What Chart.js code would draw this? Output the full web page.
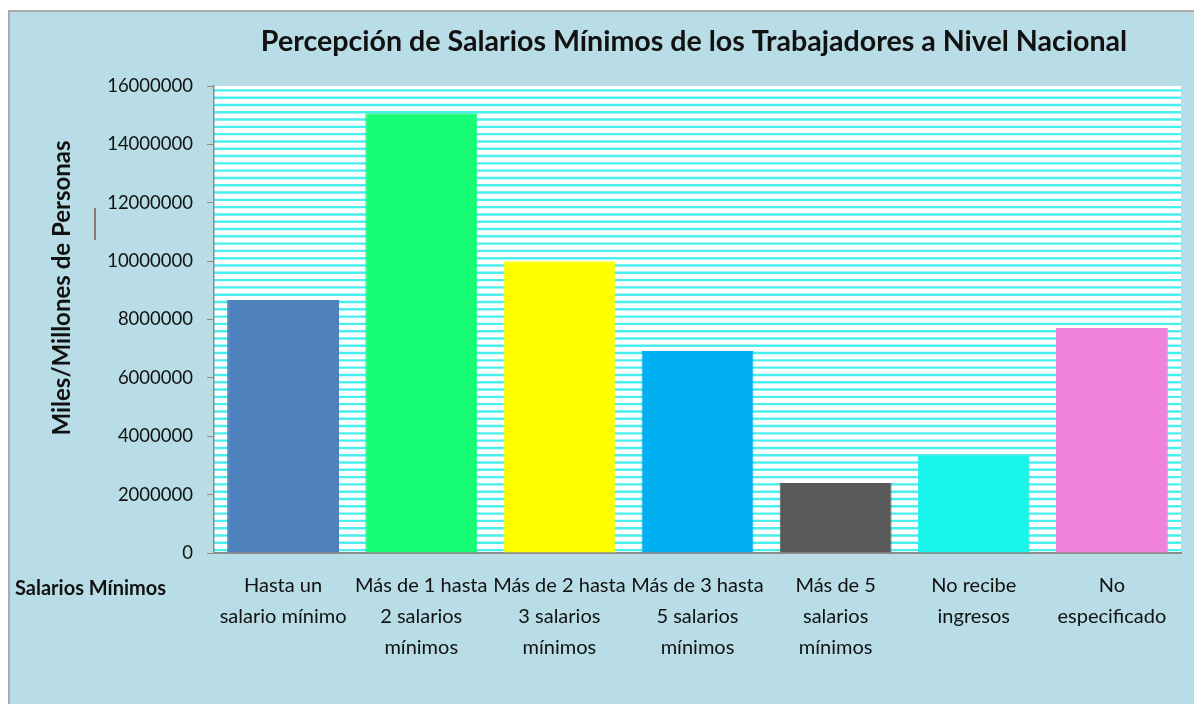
<!DOCTYPE html>
<html>
<head>
<meta charset="utf-8">
<script src="https://cdn.jsdelivr.net/npm/chart.js@4.4.1/dist/chart.umd.min.js"></script>
<style>
    html, body { margin: 0; padding: 0; background: #ffffff; overflow: hidden; }
    #wrap { position: absolute; left: 0; top: 0; width: 1194px; height: 704px; }
</style>
</head>
<body>
<div id="wrap"><canvas id="salariosChart" width="1194" height="704"></canvas></div>
<script>
const categorias = [
    ['Hasta un', 'salario mínimo'],
    ['Más de 1 hasta', '2 salarios', 'mínimos'],
    ['Más de 2 hasta', '3 salarios', 'mínimos'],
    ['Más de 3 hasta', '5 salarios', 'mínimos'],
    ['Más de 5', 'salarios', 'mínimos'],
    ['No recibe', 'ingresos'],
    ['No', 'especificado']
];
const personas = [8670000, 15070000, 10000000, 6920000, 2400000, 3320000, 7710000];
const yMin = 0;
const yMax = 16000000;
const yPaso = 2000000;

const barColors = ['#4f81bd', '#17fd78', '#ffff00', '#00b0f0', '#595959', '#19f5ea', '#f081dc'];
const fontFam = 'Lato, "Open Sans", sans-serif';

// Frame, striped plot background and loose texts
const decoPlugin = {
    id: 'deco',
    beforeDraw(chart) {
        const ctx = chart.ctx;
        const a = chart.chartArea;
        ctx.save();
        ctx.fillStyle = '#b8dde6';
        ctx.fillRect(8, 10, chart.width - 8, chart.height - 10);
        ctx.strokeStyle = '#ababab';
        ctx.lineWidth = 2;
        ctx.beginPath();
        ctx.moveTo(9, chart.height);
        ctx.lineTo(9, 11);
        ctx.lineTo(chart.width, 11);
        ctx.stroke();

        // white plot area with narrow horizontal stripes
        ctx.fillStyle = '#ffffff';
        ctx.fillRect(a.left, a.top, a.right - a.left, a.bottom - a.top);
        ctx.strokeStyle = '#4aeeee';
        ctx.lineWidth = 2.4;
        const step = (a.bottom - a.top) / 64;
        for (let y = a.top + step * 0.6; y < a.bottom; y += step) {
            ctx.beginPath();
            ctx.moveTo(a.left, y);
            ctx.lineTo(a.right, y);
            ctx.stroke();
        }
        ctx.restore();
    },
    afterDraw(chart) {
        const ctx = chart.ctx;
        ctx.save();
        ctx.fillStyle = '#111111';
        ctx.textAlign = 'center';
        ctx.textBaseline = 'middle';
        ctx.font = 'bold 28.6px ' + fontFam;
        ctx.fillText('Percepción de Salarios Mínimos de los Trabajadores a Nivel Nacional', 694, 42);

        ctx.font = 'bold 20px ' + fontFam;
        ctx.textAlign = 'left';
        ctx.fillText('Salarios Mínimos', 15, 589);

        ctx.translate(62, 288);
        ctx.rotate(-Math.PI / 2);
        ctx.textAlign = 'center';
        ctx.font = 'bold 24px ' + fontFam;
        ctx.fillText('Miles/Millones de Personas', 0, 0);
        ctx.restore();

        ctx.save();
        ctx.strokeStyle = '#7a5a52';
        ctx.lineWidth = 1.5;
        ctx.beginPath();
        ctx.moveTo(95, 208);
        ctx.lineTo(95, 240);
        ctx.stroke();
        ctx.restore();
    }
};

new Chart(document.getElementById('salariosChart'), {
    type: 'bar',
    data: {
        labels: categorias,
        datasets: [{
            data: personas,
            backgroundColor: barColors,
            borderColor: barColors,
            borderWidth: 1,
            barPercentage: 0.81,
            categoryPercentage: 1
        }]
    },
    options: {
        responsive: false,
        animation: false,
        devicePixelRatio: 1,
        layout: { padding: { top: 86, right: 13, left: 0, bottom: 0 } },
        plugins: {
            legend: { display: false },
            title: { display: false },
            tooltip: { enabled: false }
        },
        scales: {
            x: {
                grid: { display: false },
                border: { color: '#8c8c8c', width: 2 },
                ticks: {
                    color: '#111111',
                    font: { family: fontFam, size: 20, lineHeight: 1.55 },
                    padding: 9,
                    maxRotation: 0,
                    autoSkip: false
                },
                afterFit(scale) { scale.height = 151; }
            },
            y: {
                min: yMin,
                max: yMax,
                grid: { drawOnChartArea: false, drawTicks: true, tickLength: 7, color: '#8c8c8c' },
                border: { color: '#8c8c8c', width: 1.5 },
                ticks: {
                    stepSize: yPaso,
                    color: '#111111',
                    font: { family: fontFam, size: 18.5 },
                    padding: 14,
                    callback: v => String(v)
                },
                afterFit(scale) { scale.width = 214; }
            }
        }
    },
    plugins: [decoPlugin]
});
</script>
</body>
</html>
